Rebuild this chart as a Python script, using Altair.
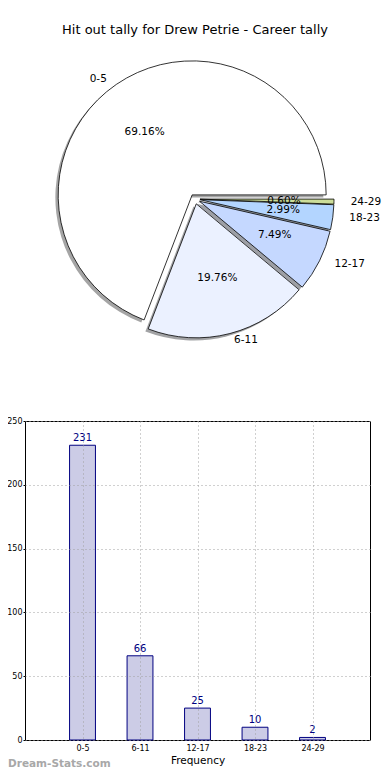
import altair as alt
import pandas as pd

# ---- data ----
categories = ["0-5", "6-11", "12-17", "18-23", "24-29"]
tallies = [231, 66, 25, 10, 2]
slice_colors = ["#FFFFFF", "#EBF1FF", "#C5D8FF", "#B3D5FF", "#CCDD99"]
y_ticks = [0, 50, 100, 150, 200, 250]
title_text = "Hit out tally for Drew Petrie - Career tally"
x_title = "Frequency"
watermark_text = "Dream-Stats.com"

FONT = "DejaVu Sans"

# ---- layout constants (pixels, relative to bar plot origin) ----
PLOT_W, PLOT_H = 345, 319
CX, CY = 170, -222        # pie centre
EXPLODE = 5
R = 134                   # arc radius
RX, RY = 140, 128         # label ellipse radii
LRX = 137                 # horizontal radius for the outer labels
SH_DX, SH_DY = -2.8, 2.6  # shadow offset


def shade(hex_color, f=0.3):
    h = hex_color.lstrip("#")
    r, g, b = (int(h[i:i + 2], 16) for i in (0, 2, 4))
    return "#{:02x}{:02x}{:02x}".format(int(r * f), int(g * f), int(b * f))


pie_df = pd.DataFrame({
    "category": categories,
    "tally": tallies,
    "order": list(range(len(categories))),
    "color": slice_colors,
    "shadow": [shade(c) for c in slice_colors],
})

pie_base = (
    alt.Chart(pie_df)
    .transform_joinaggregate(total="sum(tally)")
    .transform_window(cum="sum(tally)", sort=[alt.SortField("order")], frame=[None, 0])
    .transform_calculate(
        f0="(datum.cum - datum.tally) / datum.total",
        f1="datum.cum / datum.total",
    )
    .transform_calculate(mid="PI * (datum.f0 + datum.f1)")
    .transform_calculate(
        cx=f"{CX} + {EXPLODE} * cos(datum.mid)",
        cy=f"{CY} - {EXPLODE} * sin(datum.mid)",
        t1="2.5 * PI - 2 * PI * datum.f1",
        t2="2.5 * PI - 2 * PI * datum.f0",
        pct="format(100 * datum.tally / datum.total, '.2f') + '%'",
        right="cos(datum.mid) >= 0",
    )
    .transform_calculate(
        sx=f"datum.cx + ({SH_DX})",
        sy=f"datum.cy + ({SH_DY})",
        px=f"datum.cx + 0.6 * {RX} * cos(datum.mid)",
        py=f"datum.cy - 0.6 * {RY} * sin(datum.mid)",
        lx=f"datum.cx + 1.1 * {LRX} * cos(datum.mid)",
        ly=f"datum.cy - 1.1 * {RY} * sin(datum.mid)",
    )
)

shadows = pie_base.mark_arc(outerRadius=R, opacity=0.5).encode(
    x=alt.X("sx:Q", scale=None),
    y=alt.Y("sy:Q", scale=None),
    theta=alt.Theta("t1:Q", scale=None, stack=None),
    theta2="t2:Q",
    fill=alt.Fill("shadow:N", scale=None),
)

arcs = pie_base.mark_arc(outerRadius=R, stroke="black", strokeWidth=0.8).encode(
    x=alt.X("cx:Q", scale=None),
    y=alt.Y("cy:Q", scale=None),
    theta=alt.Theta("t1:Q", scale=None, stack=None),
    theta2="t2:Q",
    fill=alt.Fill("color:N", scale=None),
)

pct_text = pie_base.mark_text(font=FONT, fontSize=10.5, color="black",
                              align="center", baseline="middle").encode(
    x=alt.X("px:Q", scale=None),
    y=alt.Y("py:Q", scale=None),
    text="pct:N",
)

label_right = pie_base.transform_filter("datum.right").mark_text(
    font=FONT, fontSize=10.5, color="black", align="left", baseline="middle"
).encode(
    x=alt.X("lx:Q", scale=None),
    y=alt.Y("ly:Q", scale=None),
    text="category:N",
)

label_left = pie_base.transform_filter("!datum.right").mark_text(
    font=FONT, fontSize=10.5, color="black", align="right", baseline="middle"
).encode(
    x=alt.X("lx:Q", scale=None),
    y=alt.Y("ly:Q", scale=None),
    text="category:N",
)

title = alt.Chart(pd.DataFrame({"t": [title_text]})).mark_text(
    font=FONT, fontSize=13, color="black", align="center", baseline="middle"
).encode(x=alt.value(CX), y=alt.value(-391), text="t:N")

# ---- bar chart ----
bar_df = pd.DataFrame({
    "category": categories,
    "tally": tallies,
    "pos": list(range(1, len(categories) + 1)),
})

label_expr = "[''," + ",".join(f"'{c}'" for c in categories) + "][datum.value]"

x_axis = alt.Axis(
    values=bar_df["pos"].tolist(), labelExpr=label_expr, grid=True,
    gridDash=[1, 3], gridColor="#a0a0a0", gridWidth=1, domain=False,
    tickSize=0, labelPadding=4, labelFont=FONT, labelFontSize=8,
    labelColor="black", title=x_title, titleFont=FONT, titleFontSize=10.5,
    titleFontWeight="normal", titleColor="black", titlePadding=3, zindex=1,
)
y_axis = alt.Axis(
    values=y_ticks, grid=True, gridDash=[1, 3], gridColor="#a0a0a0",
    gridWidth=1, domain=False, tickSize=2, tickColor="black", labelPadding=1,
    labelFont=FONT, labelFontSize=8, labelColor="black", title=None, zindex=1,
)

bars = (
    alt.Chart(bar_df)
    .transform_calculate(x0="datum.pos - 0.225", x1="datum.pos + 0.225")
    .mark_rect(fill="#CCCCE6", stroke="#000080", strokeWidth=1)
    .encode(
        x=alt.X("x0:Q", scale=alt.Scale(domain=[0, 6], nice=False), axis=x_axis),
        x2="x1:Q",
        y=alt.Y("tally:Q", scale=alt.Scale(domain=[0, 250], nice=False), axis=y_axis),
        y2=alt.Y2(datum=0),
    )
)

bar_text = alt.Chart(bar_df).mark_text(
    font=FONT, fontSize=10, color="#000080", baseline="bottom", dy=-2
).encode(
    x=alt.X("pos:Q", title=x_title),
    y=alt.Y("tally:Q"),
    text="tally:Q",
)

watermark = alt.Chart(pd.DataFrame({"t": [watermark_text]})).mark_text(
    font=FONT, fontSize=10.5, fontWeight="bold", color="#a8a8a8",
    align="left", baseline="middle"
).encode(x=alt.value(-17), y=alt.value(343), text="t:N")

chart = alt.layer(
    shadows, arcs, pct_text, label_right, label_left, title,
    bars, bar_text, watermark,
).properties(
    width=PLOT_W,
    height=PLOT_H,
    autosize=alt.AutoSizeParams(type="none"),
    padding={"left": 17, "top": 413, "right": 12, "bottom": 30},
).configure_view(stroke="black", strokeWidth=1)

chart.save("out.html", embed_options={"renderer": "svg", "actions": False})
